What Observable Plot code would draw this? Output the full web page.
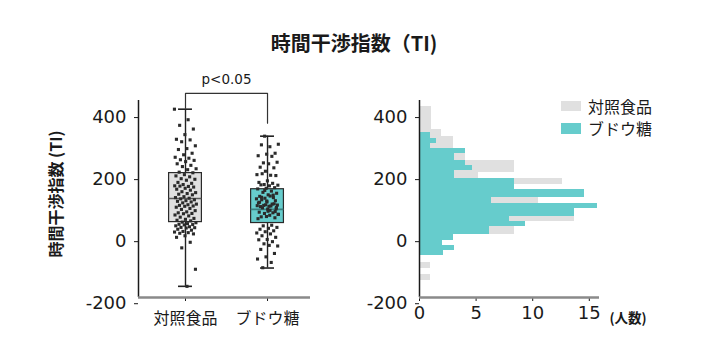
<!DOCTYPE html>
<html><head><meta charset="utf-8">
<script src="https://cdn.jsdelivr.net/npm/d3@7"></script>
<script src="https://cdn.jsdelivr.net/npm/@observablehq/plot@0.6"></script>
<style>
body{margin:0;background:#fff;}
#root{position:relative;width:710px;height:360px;font-family:"DejaVu Sans","Noto Sans CJK JP",sans-serif;color:#1a1a1a;overflow:hidden}
.abs{position:absolute;white-space:nowrap;line-height:1}
.cjk{font-family:"Noto Sans CJK JP","Noto Sans",sans-serif}
svg{position:absolute;top:0;overflow:visible}
</style></head><body><div id="root"></div>
<script>
// ---- data ----
const categories = ["対照食品", "ブドウ糖"];
const controlTI = [427, 393, 375, 363, 345, 330, 328, 322, 309, 300, 297, 285, 280, 272, 269, 264, 262, 258, 251, 246,
  242, 235, 232, 224, 222, 216, 212, 209, 203, 201, 198, 191, 188, 184, 180, 178, 179, 176, 172, 169,
  166, 161, 158, 155, 153, 151, 145, 142, 140, 138, 135, 132, 130, 128, 125, 121, 119, 117, 115, 114,
  111, 107, 104, 100, 96, 93, 91, 90, 86, 83, 79, 75, 72, 69, 67, 63, 61, 58, 56, 55,
  54, 51, 48, 46, 45, 44, 40, 37, 33, 31, 29, 27, 25, 19, 14, -2, -20, -89, -144];
const glucoseTI = [340, 314, 306, 312, 285, 282, 277, 275, 254, 256, 251, 240, 238, 227, 216, 214, 219, 213, 196, 191,
  188, 184, 182, 180, 183, 174, 172, 170, 163, 159, 156, 151, 146, 142, 140, 138, 147, 135, 132, 128,
  125, 121, 117, 118, 114, 113, 122, 119, 116, 115, 109, 106, 105, 95, 93, 91, 88, 85, 80, 77,
  81, 74, 53, 51, 46, 43, 40, 35, 32, 28, 25, 19, 14, 7, 6, 0, -7, -14, -12, -25,
  -38, -49, -56, -67, -84, 110, 98, 127, 150, 165, 88, 101, 143, 97, 131];
const boxMin = [-144, -85];
const boxQ1 = [63, 60];
const boxMedian = [139, 104];
const boxQ3 = [221, 169];
const boxMax = [427, 340];
const bracketTop = 478;
const bracketLegEnds = [430, 382];
const pLabel = "p<0.05";
// histogram bars: [lower TI, upper TI, 人数]
const controlBins = [[361, 437, 1.1], [338, 361, 1.94], [300, 338, 2.97], [285, 300, 3], [260, 285, 4.06],
  [222, 260, 8.38], [203, 222, 5.2], [185, 203, 12.6], [167, 185, 8], [141, 167, 12], [124, 141, 10.5],
  [106, 124, 14], [80, 106, 12], [66, 80, 13.7], [50, 66, 9], [24, 50, 8.4], [5, 24, 2], [-12, 5, 1],
  [-86, -67, 0.97], [-124, -105, 0.97]];
const glucoseBins = [[332, 351, 0.97], [317, 332, 1.5], [300, 317, 0.97], [285, 300, 4.06], [260, 285, 3.1],
  [245, 260, 4.06], [230, 245, 4.7], [203, 230, 3.1], [167, 203, 8.38], [141, 167, 14.6], [124, 141, 6.4],
  [106, 124, 15.7], [80, 106, 13.7], [66, 80, 7.94], [50, 66, 9.4], [24, 50, 6.2], [5, 24, 2.97],
  [-12, 5, 2.03], [-29, -12, 3.06], [-45, -29, 2.1]];
const yTicks = [-200, 0, 200, 400];
const countTicks = [0, 5, 10, 15];
const titleText = "時間干渉指数（TI)";
const yLabelText = "時間干渉指数 (TI)";
const countLabel = "(人数)";

// ---- styles ----
const FONT = '"DejaVu Sans", "Noto Sans CJK JP", sans-serif';
const CJK = '"Noto Sans CJK JP", "Noto Sans", sans-serif';
const groupFill = ["#e0e0e0", "#66cccc"];
const medianStroke = ["#5a5a5a", "#3b7f7f"];
const yDomain = [-180, 455];
const xDomainBox = [-0.573, 1.524];
const countDomain = [0, 15.9];
const halfBox = 0.2, halfCap = 0.085, jitterWidth = 0.27;
const plainNum = d => String(d);

const root = document.getElementById("root");

const boxes = categories.map((c, k) => ({k, min: boxMin[k], q1: boxQ1[k], median: boxMedian[k], q3: boxQ3[k], max: boxMax[k]}));
const points = [
  ...controlTI.map((v, i) => ({g: 0, v, i})),
  ...glucoseTI.map((v, i) => ({g: 1, v, i}))
];
const jitter = d => (((d.i * 0.6180339887 + d.g * 0.37) % 1) - 0.5) * jitterWidth;
const bracket = [
  {x: 0, y: bracketLegEnds[0]}, {x: 0, y: bracketTop},
  {x: 1, y: bracketTop}, {x: 1, y: bracketLegEnds[1]}
];

const left = Plot.plot({
  width: 330, height: 360,
  marginLeft: 138, marginRight: 20, marginTop: 100, marginBottom: 63,
  style: {fontFamily: FONT, fontSize: "18px", color: "#1a1a1a", background: "transparent", overflow: "visible"},
  x: {domain: xDomainBox, label: null},
  y: {domain: yDomain, label: null},
  marks: [
    Plot.axisY({ticks: yTicks, tickFormat: plainNum, tickSize: 4, tickPadding: 8, fontSize: 18, label: null}),
    Plot.axisX({ticks: [0, 1], tickFormat: i => categories[i], tickSize: 4, tickPadding: 11, fontSize: 16, fontFamily: CJK, label: null}),
    Plot.ruleX(boxes, {x: "k", y1: "min", y2: "max", stroke: "#222", strokeWidth: 1.4}),
    Plot.ruleY(boxes, {y: "min", x1: d => d.k - halfCap, x2: d => d.k + halfCap, stroke: "#222", strokeWidth: 1.6}),
    Plot.ruleY(boxes, {y: "max", x1: d => d.k - halfCap, x2: d => d.k + halfCap, stroke: "#222", strokeWidth: 1.6}),
    ...boxes.map(b => Plot.rect([b], {x1: d => d.k - halfBox, x2: d => d.k + halfBox, y1: "q1", y2: "q3", fill: groupFill[b.k], stroke: "#2a2a2a", strokeWidth: 1.2})),
    ...boxes.map(b => Plot.ruleY([b], {y: "median", x1: d => d.k - halfBox, x2: d => d.k + halfBox, stroke: medianStroke[b.k], strokeWidth: 1.6})),
    Plot.dot(points, {x: d => d.g + jitter(d), y: "v", symbol: "square", r: 1.75, fill: "#2b2b2b"}),
    Plot.line(bracket, {x: "x", y: "y", stroke: "#333", strokeWidth: 1.2}),
    Plot.text([pLabel], {x: () => 0.5, y: () => bracketTop, dy: -14, text: d => d, fontSize: 13.5, fill: "#1a1a1a"}),
    Plot.ruleX([xDomainBox[0]], {stroke: "#1a1a1a", strokeWidth: 1.5}),
    Plot.ruleY([yDomain[0]], {stroke: "#8a8a8a", strokeWidth: 2.5})
  ]
});
left.style.left = "0px";
root.appendChild(left);

const right = Plot.plot({
  width: 380, height: 360,
  marginLeft: 89, marginRight: 111, marginTop: 100, marginBottom: 63,
  style: {fontFamily: FONT, fontSize: "18px", color: "#1a1a1a", background: "transparent", overflow: "visible"},
  x: {domain: countDomain, label: null},
  y: {domain: yDomain, label: null},
  marks: [
    Plot.rect(controlBins, {y1: d => d[0], y2: d => d[1], x1: () => 0, x2: d => d[2], fill: groupFill[0], shapeRendering: "crispEdges"}),
    Plot.rect(glucoseBins, {y1: d => d[0], y2: d => d[1], x1: () => 0, x2: d => d[2], fill: groupFill[1], shapeRendering: "crispEdges"}),
    Plot.axisY({ticks: yTicks, tickFormat: plainNum, tickSize: 4, tickPadding: 8, fontSize: 18, label: null}),
    Plot.axisX({ticks: countTicks, tickFormat: plainNum, tickSize: 4, tickPadding: 5, fontSize: 18, label: null}),
    Plot.ruleX([countDomain[0]], {stroke: "#1a1a1a", strokeWidth: 1.5}),
    Plot.ruleY([yDomain[0]], {stroke: "#8a8a8a", strokeWidth: 2.5})
  ]
});
right.style.left = "330px";
root.appendChild(right);

function addText(txt, x, y, css, cls) {
  const el = document.createElement("div");
  el.className = "abs" + (cls ? " " + cls : "");
  el.textContent = txt;
  el.style.left = x + "px";
  el.style.top = y + "px";
  Object.assign(el.style, css);
  root.appendChild(el);
  return el;
}
addText(titleText, 354, 43, {fontSize: "20px", fontWeight: "bold", transform: "translate(-50%,-50%)"}, "cjk");
addText(yLabelText, 55, 194, {fontSize: "16px", fontWeight: "bold", transform: "translate(-50%,-50%) rotate(-90deg)"}, "cjk");
addText(countLabel, 628, 317.5, {fontSize: "13.5px", fontWeight: "bold", transform: "translate(-50%,-50%)"}, "cjk");

// legend
categories.forEach((c, k) => {
  const sw = document.createElement("div");
  sw.className = "abs";
  Object.assign(sw.style, {left: "561px", top: (100.5 + k * 22.5) + "px", width: "20px", height: "10.5px", background: groupFill[k]});
  root.appendChild(sw);
  addText(c, 588, 105.5 + k * 22.5, {fontSize: "16px", transform: "translateY(-50%)"}, "cjk");
});
</script></body></html>
